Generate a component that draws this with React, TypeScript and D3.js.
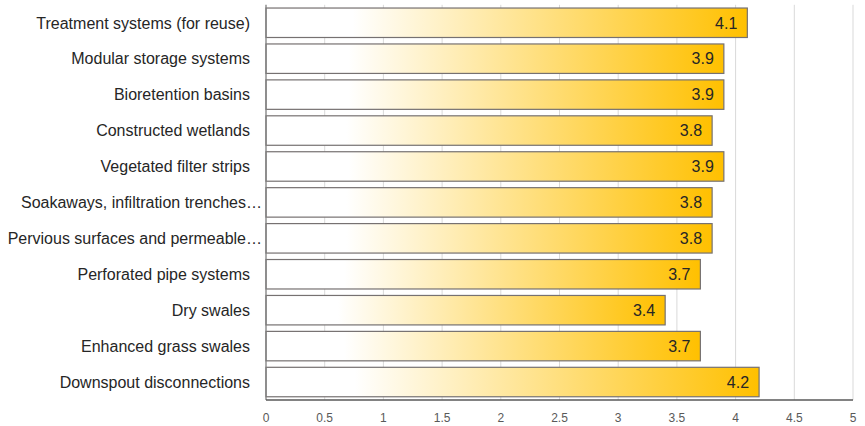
import React from "react";
import * as d3 from "d3";

const categories = [
  "Treatment systems (for reuse)",
  "Modular storage systems",
  "Bioretention basins",
  "Constructed wetlands",
  "Vegetated filter strips",
  "Soakaways, infiltration trenches…",
  "Pervious surfaces and permeable…",
  "Perforated pipe systems",
  "Dry swales",
  "Enhanced grass swales",
  "Downspout disconnections",
];
const scores = [4.1, 3.9, 3.9, 3.8, 3.9, 3.8, 3.8, 3.7, 3.4, 3.7, 4.2];
const tickValues = [0, 0.5, 1, 1.5, 2, 2.5, 3, 3.5, 4, 4.5, 5];

const W = 865;
const H = 426;
const FONT = "'Liberation Sans', Arial, sans-serif";

export default function App() {
  const x = d3.scaleLinear().domain([0, 5]).range([266, 853]);
  const y = d3
    .scaleBand<string>()
    .domain(categories)
    .range([4.8, 400])
    .paddingInner(0.18)
    .paddingOuter(0.09);
  const fmt = d3.format(".1f");

  return (
    <svg
      width={W}
      height={H}
      style={{ position: "absolute", left: 0, top: 0, background: "#fff" }}
    >
      <defs>
        <linearGradient id="barFill" x1="0" x2="1" y1="0" y2="0">
          <stop offset="0" stopColor="#ffffff" />
          <stop offset="0.18" stopColor="#ffffff" />
          <stop offset="1" stopColor="#ffc000" />
        </linearGradient>
      </defs>

      {/* vertical gridlines */}
      {tickValues.slice(1).map((t) => (
        <line
          key={t}
          x1={x(t)}
          x2={x(t)}
          y1={4.8}
          y2={400}
          stroke="#d9d9d9"
          strokeWidth={1}
        />
      ))}

      {/* bars */}
      {categories.map((c, i) => (
        <g key={c}>
          <rect
            x={x(0)}
            y={y(c)}
            width={x(scores[i]) - x(0)}
            height={y.bandwidth()}
            fill="url(#barFill)"
            stroke="#767171"
            strokeWidth={1.2}
          />
          <text
            x={x(scores[i]) - 10}
            y={y(c)! + y.bandwidth() / 2}
            dy="0.36em"
            textAnchor="end"
            fontFamily={FONT}
            fontSize={16}
            fill="#262626"
          >
            {fmt(scores[i])}
          </text>
          <text
            x={c.endsWith("…") ? 262 : 250}
            y={y(c)! + y.bandwidth() / 2}
            dy="0.36em"
            textAnchor="end"
            fontFamily={FONT}
            fontSize={16}
            fill="#262626"
          >
            {c}
          </text>
        </g>
      ))}

      {/* axes */}
      <line x1={x(0)} x2={x(0)} y1={4.8} y2={400} stroke="#7f7f7f" strokeWidth={1.3} />
      <line x1={x(0)} x2={x(5)} y1={400} y2={400} stroke="#595959" strokeWidth={1.5} />

      {tickValues.map((t) => (
        <text
          key={t}
          x={x(t)}
          y={422}
          textAnchor="middle"
          fontFamily={FONT}
          fontSize={12}
          fill="#595959"
        >
          {String(t)}
        </text>
      ))}
    </svg>
  );
}
